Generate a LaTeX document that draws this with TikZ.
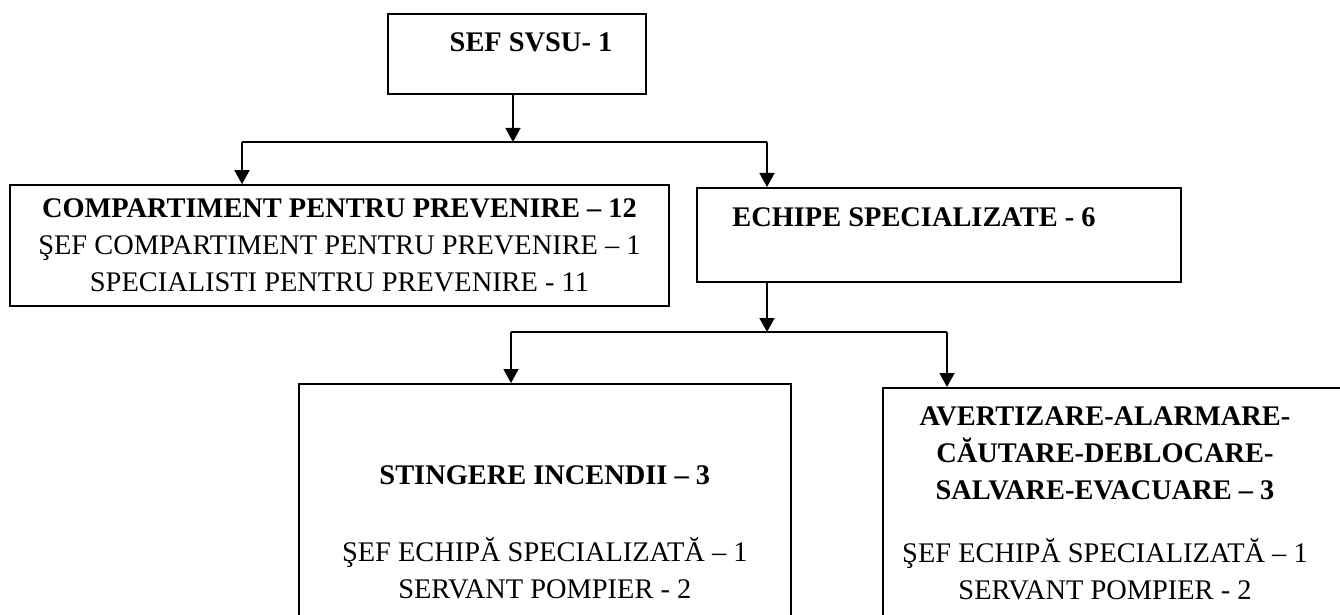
\documentclass[tikz,border=0pt]{standalone}
\usepackage{fontspec}
\setmainfont{Liberation Serif}
\usetikzlibrary{positioning}
\usetikzlibrary{arrows.meta}
\usetikzlibrary{calc}
\tikzset{>={Triangle[length=7pt,width=7.5pt]}}
\tikzset{box/.style={draw, rectangle, inner sep=0pt, line width=0.8pt, align=center, font=\fontsize{14.2}{18.5}\selectfont}}
\tikzset{lbl/.style={inner sep=0pt, align=center, font=\fontsize{14.2}{18.5}\selectfont}}
\tikzset{ln/.style={line width=0.8pt}}

\begin{document}
\begin{tikzpicture}[x=0.5pt, y=-0.5pt]
    \useasboundingbox (0,0) rectangle (1340,615);
    \clip (0,0) rectangle (1340,615);

    \node[box, anchor=north west, minimum width=129pt, minimum height=40pt] (sef) at (387,13) {};
    \node[lbl] (sefLbl) at (531,42) {\textbf{SEF SVSU- 1}};

    \node[box, minimum width=329.5pt, minimum height=60.5pt] (prev) at (339.5,245.5)
      {\textbf{COMPARTIMENT PENTRU PREVENIRE – 12}\\ŞEF COMPARTIMENT PENTRU PREVENIRE – 1\\SPECIALISTI PENTRU PREVENIRE - 11};

    \node[box, anchor=north west, minimum width=242pt, minimum height=47pt] (ech) at (696,187) {};
    \node[lbl] (echLbl) at (914,217) {\textbf{ECHIPE SPECIALIZATE - 6}};

    \node[box, anchor=north west, minimum width=246pt, minimum height=148.5pt] (stin) at (298,383)
      {\textbf{STINGERE INCENDII – 3}\\[20pt]ŞEF ECHIPĂ SPECIALIZATĂ – 1\\SERVANT POMPIER - 2};

    \node[box, anchor=north west, minimum width=235pt, minimum height=150pt] (alarm) at (882,387) {};
    \node[lbl] (alarmLbl) at (1105,503)
      {\textbf{AVERTIZARE-ALARMARE-}\\\textbf{CĂUTARE-DEBLOCARE-}\\\textbf{SALVARE-EVACUARE – 3}\\[13pt]ŞEF ECHIPĂ SPECIALIZATĂ – 1\\SERVANT POMPIER - 2};

    \coordinate (j1) at (513,142);
    \coordinate (l1) at (242,142);
    \coordinate (r1) at (767,142);
    \draw[ln, ->] (sef.south -| j1) -- (j1);
    \draw[ln] (l1) -- (r1);
    \draw[ln, ->] (l1) -- (l1 |- prev.north);
    \draw[ln, ->] (r1) -- (r1 |- ech.north);

    \coordinate (j2) at (767,332);
    \coordinate (l2) at (511,332);
    \coordinate (r2) at (947,332);
    \draw[ln, ->] (ech.south -| j2) -- (j2);
    \draw[ln] (l2) -- (r2);
    \draw[ln, ->] (l2) -- (l2 |- stin.north);
    \draw[ln, ->] (r2) -- (r2 |- alarm.north);
\end{tikzpicture}
\end{document}
